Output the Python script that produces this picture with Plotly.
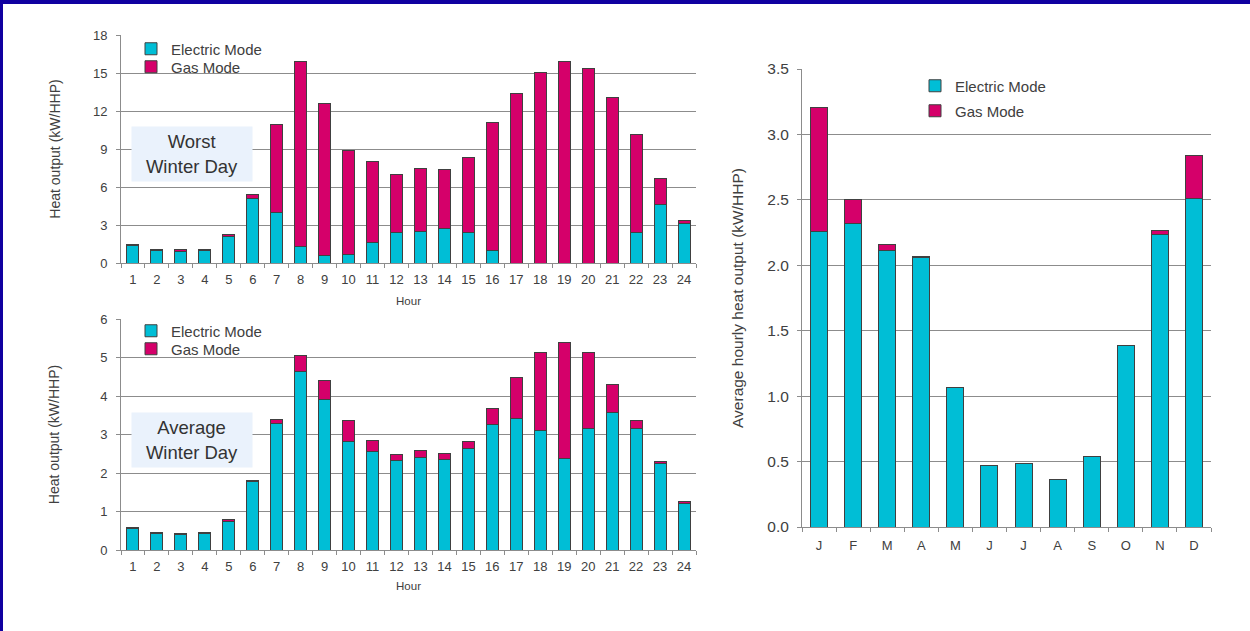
import plotly.graph_objects as go

# Hourly heat output per heat-pump (kW/HHP), worst winter day
hours = [str(h) for h in range(1, 25)]
worst_electric = [1.35, 0.95, 0.87, 0.95, 2.11, 5.12, 4.01, 1.29, 0.58, 0.66, 1.61, 2.40,
                  2.51, 2.72, 2.40, 0.95, 0.0, 0.0, 0.0, 0.0, 0.0, 2.40, 4.64, 3.14]
worst_gas = [0.15, 0.15, 0.16, 0.15, 0.16, 0.32, 6.89, 14.61, 11.98, 8.26, 6.41, 4.62,
             4.96, 4.69, 5.91, 10.11, 13.35, 15.04, 15.91, 15.38, 13.03, 7.71, 2.01, 0.24]

# Average winter day
avg_electric = [0.55, 0.42, 0.39, 0.42, 0.75, 1.77, 3.28, 4.63, 3.91, 2.81, 2.55, 2.32,
                2.40, 2.36, 2.64, 3.26, 3.42, 3.10, 2.38, 3.16, 3.57, 3.16, 2.25, 1.21]
avg_gas = [0.04, 0.03, 0.04, 0.03, 0.04, 0.03, 0.11, 0.42, 0.49, 0.55, 0.29, 0.16,
           0.18, 0.15, 0.18, 0.42, 1.07, 2.02, 3.00, 1.96, 0.73, 0.20, 0.05, 0.04]

# Monthly average hourly heat output
months = ["J", "F", "M", "A", "M", "J", "J", "A", "S", "O", "N", "D"]
month_keys = [f"{i}" for i in range(12)]
month_electric = [2.255, 2.32, 2.115, 2.056, 1.066, 0.47, 0.483, 0.364, 0.542, 1.39, 2.237, 2.513]
month_gas = [0.952, 0.18, 0.043, 0.01, 0.0, 0.0, 0.0, 0.0, 0.0, 0.0, 0.026, 0.329]

W, H = 1250, 631
ELEC = "#00BED6"
GAS = "#D5006A"
OUTLINE = dict(color="#404040", width=1)
TEXT = "#404040"
GRID = "#8c8c8c"
FONT = "Liberation Sans, Arial, sans-serif"


def px_x(p):
    return p / W


def px_y(p):
    return 1 - p / H


fig = go.Figure()


def add_pair(x, elec, gas, xa, ya, leg_e, leg_g):
    fig.add_trace(go.Bar(x=x, y=elec, name="Electric Mode", marker=dict(color=ELEC, line=OUTLINE),
                         xaxis=xa, yaxis=ya, legend=leg_e))
    fig.add_trace(go.Bar(x=x, y=gas, name="Gas Mode", marker=dict(color=GAS, line=OUTLINE),
                         xaxis=xa, yaxis=ya, legend=leg_g))


add_pair(hours, worst_electric, worst_gas, "x", "y", "legend", "legend2")
add_pair(hours, avg_electric, avg_gas, "x2", "y2", "legend3", "legend4")
add_pair(month_keys, month_electric, month_gas, "x3", "y3", "legend5", "legend6")

xcommon = dict(type="category", showline=True, linecolor=GRID, linewidth=1, ticks="outside",
               tickson="boundaries", ticklen=4, tickcolor=GRID, showgrid=False, tickangle=0,
               ticklabelstandoff=4, automargin=False,
               tickfont=dict(size=13, color=TEXT, family=FONT), fixedrange=True)
ycommon = dict(showline=True, linecolor=GRID, linewidth=1, ticks="outside", ticklen=4, tickcolor=GRID,
               showgrid=True, gridcolor=GRID, gridwidth=1, zeroline=False, automargin=False,
               ticklabelstandoff=6, tickfont=dict(size=13, color=TEXT, family=FONT), fixedrange=True)


def legend_at(x, y, size=15):
    return dict(bgcolor="rgba(0,0,0,0)", font=dict(size=size, color=TEXT, family=FONT),
                itemwidth=30, xanchor="left", yanchor="middle", x=px_x(x), y=px_y(y))


fig.update_layout(
    width=W, height=H,
    margin=dict(l=0, r=0, t=0, b=0, autoexpand=False),
    paper_bgcolor="white", plot_bgcolor="white",
    barmode="stack", bargap=0.5,
    font=dict(family=FONT, color=TEXT),
    showlegend=True,
    xaxis=dict(xcommon, domain=[px_x(121), px_x(696)], anchor="y",
               title=dict(text="Hour", font=dict(size=11.5, color=TEXT), standoff=11)),
    yaxis=dict(ycommon, domain=[px_y(263), px_y(35)], anchor="x", range=[0, 18],
               tickvals=[0, 3, 6, 9, 12, 15, 18],
               title=dict(text="Heat output (kW/HHP)", font=dict(size=14, color=TEXT), standoff=29)),
    xaxis2=dict(xcommon, domain=[px_x(121), px_x(696)], anchor="y2",
                title=dict(text="Hour", font=dict(size=11.5, color=TEXT), standoff=9)),
    yaxis2=dict(ycommon, domain=[px_y(550), px_y(319)], anchor="x2", range=[0, 6],
                tickvals=[0, 1, 2, 3, 4, 5, 6],
                title=dict(text="Heat output (kW/HHP)", font=dict(size=14, color=TEXT), standoff=37)),
    xaxis3=dict(xcommon, domain=[px_x(802), px_x(1211)], anchor="y3", ticklabelstandoff=6,
                tickvals=month_keys, ticktext=months, tickfont=dict(size=13, color=TEXT, family=FONT)),
    yaxis3=dict(ycommon, domain=[px_y(527), px_y(69)], anchor="x3", range=[0, 3.5],
                tickvals=[0, 0.5, 1, 1.5, 2, 2.5, 3, 3.5], tickformat=".1f", ticklabelstandoff=5,
                tickfont=dict(size=15.5, color=TEXT, family=FONT),
                title=dict(text="Average hourly heat output (kW/HHP)", font=dict(size=15.5, color=TEXT),
                           standoff=19)),
    legend=legend_at(131, 49),
    legend2=legend_at(131, 67),
    legend3=legend_at(131, 331),
    legend4=legend_at(131, 349),
    legend5=legend_at(915, 86),
    legend6=legend_at(915, 111),
)

# Day-type labels on a pale panel
for label, cy in [("Worst<br>Winter Day", 154), ("Average<br>Winter Day", 440)]:
    fig.add_annotation(text=label, xref="paper", yref="paper", x=px_x(192), y=px_y(cy),
                       xanchor="center", yanchor="middle", showarrow=False, width=118, height=52,
                       bgcolor="#EAF2FC", font=dict(size=18.5, color="#333333", family=FONT))

# Dark blue frame along the top and left edges
fig.add_shape(type="rect", xref="paper", yref="paper", x0=0, x1=1, y0=px_y(4), y1=1,
              fillcolor="#1000A0", line=dict(width=0), layer="above")
fig.add_shape(type="rect", xref="paper", yref="paper", x0=0, x1=px_x(3), y0=0, y1=1,
              fillcolor="#1000A0", line=dict(width=0), layer="above")

# Let the figure fill the page edge to edge
fig.write_html("out.html", post_script="document.body.style.margin='0';")
